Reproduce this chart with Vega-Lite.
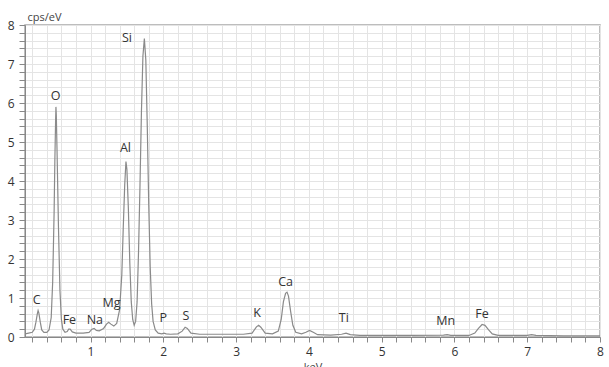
{
  "$schema": "https://vega.github.io/schema/vega-lite/v6.json",
  "width": 575,
  "height": 312,
  "autosize": {"type": "none"},
  "padding": {"left": 25, "top": 25, "right": 9, "bottom": 30},
  "background": "white",
  "config": {"view": {"stroke": "#a8a8a8", "strokeWidth": 1.5}, "font": "Open Sans"},
  "datasets": {
    "spectrum": [
      {"keV": 0.10, "cps": 0.08}, {"keV": 0.15, "cps": 0.10}, {"keV": 0.20, "cps": 0.12}, {"keV": 0.23, "cps": 0.2},
      {"keV": 0.25, "cps": 0.38}, {"keV": 0.27, "cps": 0.6}, {"keV": 0.28, "cps": 0.68}, {"keV": 0.29, "cps": 0.62},
      {"keV": 0.31, "cps": 0.38}, {"keV": 0.33, "cps": 0.18}, {"keV": 0.36, "cps": 0.12}, {"keV": 0.40, "cps": 0.12},
      {"keV": 0.43, "cps": 0.18}, {"keV": 0.46, "cps": 0.5}, {"keV": 0.48, "cps": 1.4}, {"keV": 0.50, "cps": 3.2},
      {"keV": 0.51, "cps": 4.5}, {"keV": 0.52, "cps": 5.5}, {"keV": 0.525, "cps": 5.9}, {"keV": 0.53, "cps": 5.7},
      {"keV": 0.54, "cps": 4.8}, {"keV": 0.56, "cps": 2.8}, {"keV": 0.58, "cps": 1.2}, {"keV": 0.60, "cps": 0.45},
      {"keV": 0.62, "cps": 0.2}, {"keV": 0.65, "cps": 0.12}, {"keV": 0.68, "cps": 0.14}, {"keV": 0.70, "cps": 0.2},
      {"keV": 0.72, "cps": 0.2}, {"keV": 0.75, "cps": 0.13}, {"keV": 0.80, "cps": 0.1}, {"keV": 0.90, "cps": 0.1},
      {"keV": 0.98, "cps": 0.12}, {"keV": 1.02, "cps": 0.2}, {"keV": 1.05, "cps": 0.22}, {"keV": 1.08, "cps": 0.17},
      {"keV": 1.12, "cps": 0.16}, {"keV": 1.18, "cps": 0.22}, {"keV": 1.22, "cps": 0.33}, {"keV": 1.25, "cps": 0.38},
      {"keV": 1.28, "cps": 0.33}, {"keV": 1.32, "cps": 0.28}, {"keV": 1.36, "cps": 0.35}, {"keV": 1.40, "cps": 0.7},
      {"keV": 1.43, "cps": 1.6}, {"keV": 1.45, "cps": 2.8}, {"keV": 1.47, "cps": 3.9}, {"keV": 1.487, "cps": 4.5},
      {"keV": 1.50, "cps": 4.3}, {"keV": 1.52, "cps": 3.3}, {"keV": 1.54, "cps": 1.9}, {"keV": 1.56, "cps": 0.9},
      {"keV": 1.58, "cps": 0.45}, {"keV": 1.60, "cps": 0.3}, {"keV": 1.62, "cps": 0.4}, {"keV": 1.64, "cps": 0.9},
      {"keV": 1.66, "cps": 2.2}, {"keV": 1.68, "cps": 3.9}, {"keV": 1.70, "cps": 5.8}, {"keV": 1.72, "cps": 7.2},
      {"keV": 1.74, "cps": 7.65}, {"keV": 1.76, "cps": 7.1}, {"keV": 1.78, "cps": 5.4}, {"keV": 1.80, "cps": 3.4},
      {"keV": 1.82, "cps": 1.8}, {"keV": 1.84, "cps": 0.85}, {"keV": 1.86, "cps": 0.4}, {"keV": 1.89, "cps": 0.18},
      {"keV": 1.93, "cps": 0.1}, {"keV": 1.98, "cps": 0.08}, {"keV": 2.01, "cps": 0.1}, {"keV": 2.04, "cps": 0.08},
      {"keV": 2.10, "cps": 0.07}, {"keV": 2.20, "cps": 0.08}, {"keV": 2.26, "cps": 0.15}, {"keV": 2.30, "cps": 0.25},
      {"keV": 2.33, "cps": 0.22}, {"keV": 2.38, "cps": 0.1}, {"keV": 2.50, "cps": 0.07}, {"keV": 2.80, "cps": 0.07},
      {"keV": 3.10, "cps": 0.07}, {"keV": 3.22, "cps": 0.1}, {"keV": 3.28, "cps": 0.26}, {"keV": 3.31, "cps": 0.3},
      {"keV": 3.34, "cps": 0.25}, {"keV": 3.40, "cps": 0.1}, {"keV": 3.50, "cps": 0.08}, {"keV": 3.58, "cps": 0.15},
      {"keV": 3.62, "cps": 0.45}, {"keV": 3.65, "cps": 0.9}, {"keV": 3.68, "cps": 1.12}, {"keV": 3.70, "cps": 1.15},
      {"keV": 3.72, "cps": 1.05}, {"keV": 3.75, "cps": 0.65}, {"keV": 3.78, "cps": 0.3}, {"keV": 3.82, "cps": 0.12},
      {"keV": 3.90, "cps": 0.08}, {"keV": 3.96, "cps": 0.12}, {"keV": 4.01, "cps": 0.17}, {"keV": 4.06, "cps": 0.12},
      {"keV": 4.12, "cps": 0.06}, {"keV": 4.30, "cps": 0.05}, {"keV": 4.45, "cps": 0.07}, {"keV": 4.51, "cps": 0.1},
      {"keV": 4.57, "cps": 0.06}, {"keV": 4.70, "cps": 0.04}, {"keV": 5.00, "cps": 0.04}, {"keV": 5.40, "cps": 0.04},
      {"keV": 5.85, "cps": 0.05}, {"keV": 5.90, "cps": 0.06}, {"keV": 5.95, "cps": 0.04}, {"keV": 6.20, "cps": 0.04},
      {"keV": 6.28, "cps": 0.1}, {"keV": 6.33, "cps": 0.22}, {"keV": 6.38, "cps": 0.32}, {"keV": 6.42, "cps": 0.3},
      {"keV": 6.47, "cps": 0.18}, {"keV": 6.52, "cps": 0.08}, {"keV": 6.60, "cps": 0.04}, {"keV": 7.00, "cps": 0.04},
      {"keV": 7.06, "cps": 0.06}, {"keV": 7.12, "cps": 0.04}, {"keV": 7.50, "cps": 0.03}, {"keV": 8.00, "cps": 0.03}
    ],
    "labels": [
      {"element": "C", "keV": 0.26, "cps": 0.95},
      {"element": "O", "keV": 0.52, "cps": 6.18},
      {"element": "Si", "keV": 1.5, "cps": 7.67},
      {"element": "Al", "keV": 1.48, "cps": 4.85},
      {"element": "Fe", "keV": 0.71, "cps": 0.44},
      {"element": "Na", "keV": 1.06, "cps": 0.44},
      {"element": "Mg", "keV": 1.29, "cps": 0.87},
      {"element": "P", "keV": 2.0, "cps": 0.49},
      {"element": "S", "keV": 2.31, "cps": 0.54},
      {"element": "K", "keV": 3.29, "cps": 0.62},
      {"element": "Ca", "keV": 3.68, "cps": 1.41},
      {"element": "Ti", "keV": 4.48, "cps": 0.49},
      {"element": "Mn", "keV": 5.88, "cps": 0.41},
      {"element": "Fe", "keV": 6.38, "cps": 0.59}
    ]
  },
  "layer": [
    {
      "data": {"name": "spectrum"},
      "mark": {"type": "line", "color": "#8a8a8a", "strokeWidth": 1.2, "clip": true},
      "encoding": {
        "x": {
          "field": "keV", "type": "quantitative",
          "scale": {"domain": [0.1, 8], "nice": false, "zero": false},
          "axis": {
            "title": "keV", "titleFontSize": 11, "titleFontWeight": "normal", "titleColor": "#444",
            "titleY": 24, "titleBaseline": "top",
            "tickCount": 200,
            "values": [0.2,0.4,0.6,0.8,1,1.2,1.4,1.6,1.8,2,2.2,2.4,2.6,2.8,3,3.2,3.4,3.6,3.8,4,4.2,4.4,4.6,4.8,5,5.2,5.4,5.6,5.8,6,6.2,6.4,6.6,6.8,7,7.2,7.4,7.6,7.8,8],
            "labelExpr": "abs(datum.value - round(datum.value)) < 0.001 ? format(datum.value, 'd') : ''",
            "labelOverlap": false, "labelBound": false, "labelFlush": false,
            "labelFontSize": 12, "labelColor": "#333", "labelPadding": 4,
            "tickSize": 5, "tickColor": "#888", "domainColor": "#888",
            "grid": true, "gridColor": "#e4e4e4", "gridWidth": 1
          }
        },
        "y": {
          "field": "cps", "type": "quantitative",
          "scale": {"domain": [0, 8], "nice": false},
          "axis": {
            "title": "cps/eV", "titleAngle": 0, "titleAlign": "left", "titleBaseline": "bottom",
            "titleX": 2, "titleY": -3, "titleFontSize": 11, "titleFontWeight": "normal", "titleColor": "#444",
            "tickCount": 200,
            "values": [0,0.2,0.4,0.6,0.8,1,1.2,1.4,1.6,1.8,2,2.2,2.4,2.6,2.8,3,3.2,3.4,3.6,3.8,4,4.2,4.4,4.6,4.8,5,5.2,5.4,5.6,5.8,6,6.2,6.4,6.6,6.8,7,7.2,7.4,7.6,7.8,8],
            "labelExpr": "abs(datum.value - round(datum.value)) < 0.001 ? format(datum.value, 'd') : ''",
            "labelOverlap": false, "labelBound": false, "labelFlush": false,
            "labelFontSize": 12, "labelColor": "#333", "labelPadding": 5,
            "tickSize": 6, "tickColor": "#888", "domainColor": "#888",
            "grid": true, "gridColor": "#e4e4e4", "gridWidth": 1
          }
        }
      }
    },
    {
      "data": {"name": "labels"},
      "mark": {"type": "text", "fontSize": 12.5, "color": "#333", "baseline": "middle", "align": "center"},
      "encoding": {
        "x": {"field": "keV", "type": "quantitative"},
        "y": {"field": "cps", "type": "quantitative"},
        "text": {"field": "element"}
      }
    }
  ]
}
